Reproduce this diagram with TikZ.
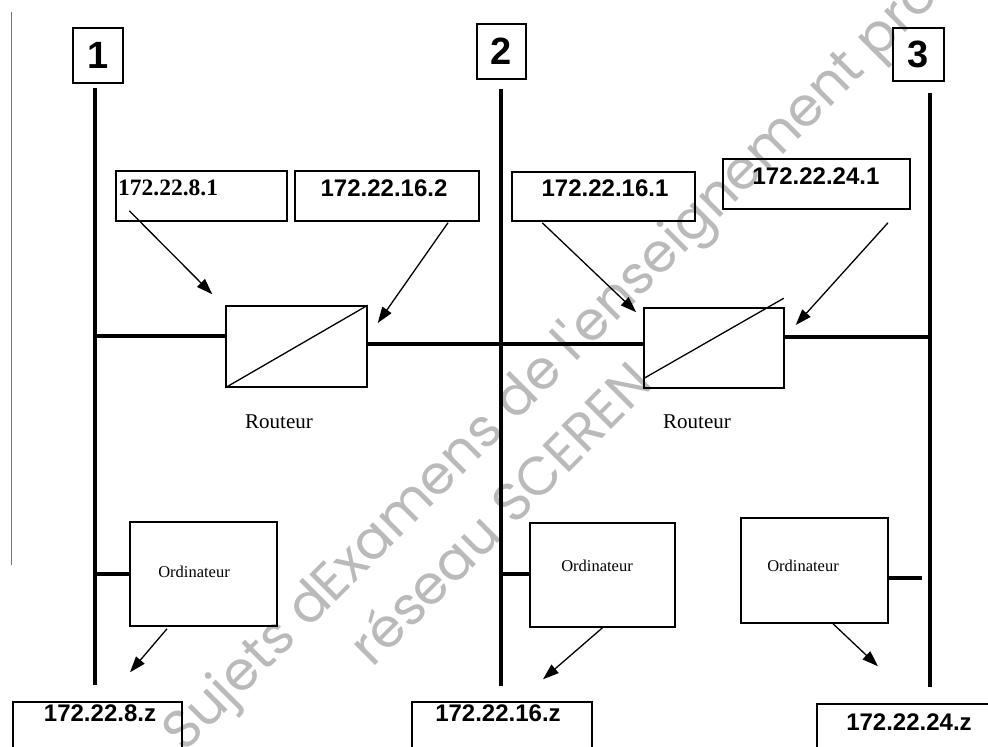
\documentclass[tikz,border=0pt]{standalone}
\usepackage{fontspec}
\setmainfont{Liberation Serif}
\newfontfamily\arialf{Liberation Sans}
\newfontfamily\wmfont{Poppins}
\usetikzlibrary{arrows.meta,calc}
\tikzset{
  bus/.style={line width=4pt},
  frame/.style={draw, line width=1.5pt, inner sep=0pt},
  numbox/.style={draw, line width=2pt, inner sep=0pt, font=\arialf\bfseries\fontsize{38}{40}\selectfont},
  sanslab/.style={inner sep=0pt, font=\arialf\bfseries\fontsize{24}{26}\selectfont},
  seriflab/.style={inner sep=0pt, font=\bfseries\fontsize{23.5}{25}\selectfont},
  routlab/.style={inner sep=0pt, font=\fontsize{21}{23}\selectfont},
  ordlab/.style={inner sep=0pt, font=\fontsize{16.5}{18}\selectfont},
  ptr/.style={line width=1.3pt, -{Triangle[length=16pt,width=11pt]}},
  wm/.style={inner sep=0pt, text=black!27, font=\wmfont\fontsize{54}{58}\selectfont}
}
\begin{document}
\begin{tikzpicture}[x=1pt,y=-1pt]
\useasboundingbox (0,0) rectangle (988,747);
\fill[white] (0,0) rectangle (988,747);

% watermark
\node[wm, rotate=45, anchor=base west] (wm1) at (184,754) {Sujets dExamens de l'enseignement professionnel};
\node[wm, rotate=45, anchor=base west] (wm2) at (372,669) {réseau SCEREN};

% thin left line
\coordinate (lt) at (11,12);
\coordinate (lb) at (11,565);
\draw[line width=1pt, black!55] (lt) -- (lb);

% network labels
\node[numbox, minimum width=50pt, minimum height=55pt] (n1) at (98,55.5) {1};
\node[numbox, minimum width=49pt, minimum height=55pt] (n2) at (501.5,51.5) {2};
\node[numbox, minimum width=51pt, minimum height=53pt] (n3) at (918.5,54.5) {3};

% buses
\coordinate (b1t) at (95,88);  \coordinate (b1b) at (95,685);
\coordinate (b2t) at (501,89); \coordinate (b2b) at (501,686);
\coordinate (b3t) at (930,93); \coordinate (b3b) at (930,687);
\draw[bus] (b1t) -- (b1b);
\draw[bus] (b2t) -- (b2b);
\draw[bus] (b3t) -- (b3b);

% routers
\node[frame, minimum width=141pt, minimum height=81pt] (r1) at (296.5,346.5) {};
\node[frame, minimum width=140pt, minimum height=80pt] (r2) at (714,348) {};
\draw[line width=1.3pt] (r1.south west) -- (r1.north east);
\coordinate (r2d1) at ([yshift=10pt]r2.south west);
\coordinate (r2d2) at ([xshift=-1pt,yshift=9pt]r2.north east);
\draw[line width=1.3pt] (r2d1) -- (r2d2);
\node[routlab] (rl1) at (279,422) {Routeur};
\node[routlab] (rl2) at (697,422) {Routeur};

% router links
\coordinate (r1l) at ([yshift=10.5pt]r1.west);
\draw[bus] (r1l) -- (r1l -| b1t);
\coordinate (r1r) at ([yshift=2.5pt]r1.east);
\draw[bus] (r1r) -- (r1r -| r2.west);
\coordinate (r2r) at ([yshift=11pt]r2.east);
\draw[bus] (r2r) -- (r2r -| b3t);

% top IP boxes
\node[frame, minimum width=171pt, minimum height=50pt] (ip1) at (201.5,196) {};
\node[seriflab, anchor=west] (ip1t) at (118,188) {172.22.8.1};
\node[frame, minimum width=184pt, minimum height=50pt] (ip2) at (387,196) {};
\node[sanslab] (ip2t) at (384,188) {172.22.16.2};
\node[frame, minimum width=183pt, minimum height=49pt] (ip3) at (603.5,196.5) {};
\node[sanslab] (ip3t) at (605,188) {172.22.16.1};
\node[frame, minimum width=187pt, minimum height=50pt] (ip4) at (816.5,184) {};
\node[sanslab] (ip4t) at (816,176) {172.22.24.1};

% computers
\node[frame, minimum width=147pt, minimum height=104pt] (c1) at (203.5,574) {};
\node[ordlab] (c1t) at (194,572) {Ordinateur};
\node[frame, minimum width=145pt, minimum height=104pt] (c2) at (602.5,575) {};
\node[ordlab] (c2t) at (597,566) {Ordinateur};
\node[frame, minimum width=147pt, minimum height=105pt] (c3) at (814.5,570.5) {};
\node[ordlab] (c3t) at (803,566) {Ordinateur};

\draw[bus] (c1.west) -- (c1.west -| b1t);
\coordinate (c2l) at ([yshift=1pt]c2.west);
\draw[bus] (c2l) -- (c2l -| b2t);
\coordinate (c3r) at ([yshift=-7.5pt]c3.east);
\coordinate (c3e) at ([xshift=-8pt]c3r -| b3t);
\draw[bus] (c3r) -- (c3e);

% bottom IP boxes
\node[frame, minimum width=169pt, minimum height=60pt] (ip5) at (97.5,732) {};
\node[sanslab] (ip5t) at (100,713) {172.22.8.z};
\node[frame, minimum width=180pt, minimum height=60pt] (ip6) at (502,732) {};
\node[sanslab] (ip6t) at (498,713) {172.22.16.z};
\node[frame, minimum width=180pt, minimum height=60pt] (ip7) at (907,734) {};
\node[sanslab] (ip7t) at (909,722) {172.22.24.z};

% pointers
\coordinate (a1s) at ([xshift=14pt,yshift=11pt]ip1.south west);
\coordinate (a1e) at ([xshift=-13pt,yshift=11pt]r1.north west);
\draw[ptr] (a1s) -- (a1e);
\coordinate (a2s) at ([xshift=61pt,yshift=-1pt]ip2.south);
\coordinate (a2e) at ([xshift=10pt,yshift=23.5pt]r1.east);
\draw[ptr] (a2s) -- (a2e);
\coordinate (a3s) at ([xshift=31pt,yshift=-1pt]ip3.south west);
\coordinate (a3e) at ([xshift=-7pt,yshift=-5pt]r2.north west);
\draw[ptr] (a3s) -- (a3e);
\coordinate (a4s) at ([xshift=71.5pt,yshift=-13pt]ip4.south);
\coordinate (a4e) at ([xshift=11pt,yshift=23pt]r2.east);
\draw[ptr] (a4s) -- (a4e);
\coordinate (a5s) at ([xshift=-36.5pt,yshift=-2pt]c1.south);
\coordinate (a5e) at ([xshift=32.5pt,yshift=29pt]ip5.north);
\draw[ptr] (a5s) -- (a5e);
\coordinate (a6s) at (c2.south);
\coordinate (a6e) at ([xshift=41pt,yshift=22pt]ip6.north);
\draw[ptr] (a6s) -- (a6e);
\coordinate (a7s) at ([xshift=18.5pt]c3.south);
\coordinate (a7e) at ([xshift=-29pt,yshift=37pt]ip7.north);
\draw[ptr] (a7s) -- (a7e);
\end{tikzpicture}
\end{document}
